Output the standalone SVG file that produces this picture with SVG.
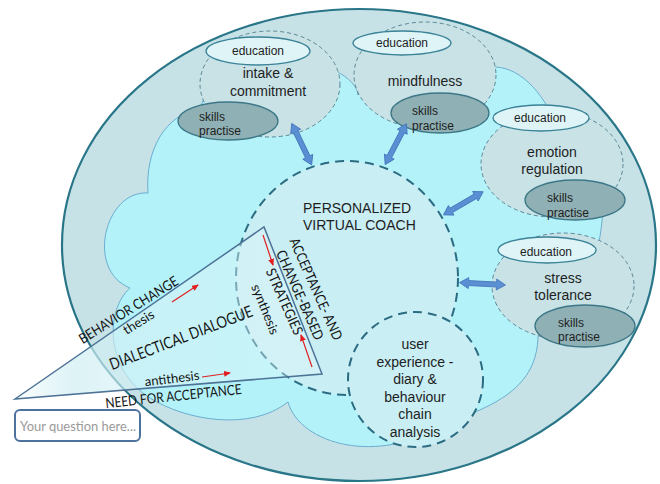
<svg xmlns="http://www.w3.org/2000/svg" width="660" height="484" viewBox="0 0 660 484">
<defs>
<style>
.big{fill:#c7e2e6;stroke:#2a7689;stroke-width:2.2}
.cloud{fill:#b4f2f9;stroke:#6aaed0;stroke-width:1}
.mod{fill:#c8e2e6;stroke:#5a8796;stroke-width:1;stroke-dasharray:4 3}
.edu{fill:#def4f7;stroke:#3a8297;stroke-width:1.3}
.skl{fill:#8fb0b4;stroke:#3c7787;stroke-width:1.3}
.core{fill:#c9eef4;stroke:#2b6c82;stroke-width:2;stroke-dasharray:9 6}
.t14{font-family:"Liberation Sans",Arial,sans-serif;font-size:14px;fill:#1e1e1e}
.t12{font-family:"Liberation Sans",Arial,sans-serif;font-size:12px;fill:#1e1e1e}
.cal{font-family:Lato,"Open Sans",sans-serif;fill:#151515}
.mid{text-anchor:middle}
.red{fill:none;stroke:#e02020;stroke-width:1.2;marker-end:url(#rh)}
.blue{fill:#5b8fd4;stroke:#4171b8;stroke-width:0.8}
</style>
<marker id="rh" viewBox="0 0 7 6" markerWidth="7" markerHeight="6" refX="6" refY="3" orient="auto" markerUnits="userSpaceOnUse">
<path d="M0,0 L7,3 L0,6 Z" fill="#e02020"/>
</marker>
<path id="dbl" d="M-23,0 L-14,-5.5 L-14,-2.5 L14,-2.5 L14,-5.5 L23,0 L14,5.5 L14,2.5 L-14,2.5 L-14,5.5 Z"/>
<linearGradient id="triGrad" gradientUnits="userSpaceOnUse" x1="15" y1="0" x2="322" y2="0">
<stop offset="0" stop-color="#ffffff" stop-opacity="1"/>
<stop offset="0.2" stop-color="#cfeef3" stop-opacity="0.7"/>
<stop offset="1" stop-color="#e6fafc" stop-opacity="0.3"/>
</linearGradient>
</defs>

<g id="background">
<ellipse class="big" cx="359" cy="245" rx="297" ry="236"/>
<path class="cloud" d="M148,193 C145,150 165,115 200,108 C230,30 355,60 358,95 C370,30 460,30 478,72 C500,58 530,75 548,108 C615,120 606,205 598,248 C630,270 600,335 538,330 C540,385 500,405 440,425 C380,465 300,445 288,402 C250,432 185,420 150,398 C105,370 105,310 130,288 C85,270 105,190 148,193 Z"/>
</g>

<g id="node-intake">
<ellipse class="mod" cx="270" cy="84" rx="70" ry="53"/>
<ellipse class="edu" cx="258" cy="51" rx="52" ry="14"/>
<text class="t12 mid" x="258" y="55">education</text>
<text class="t14 mid" x="268" y="78">intake &amp;</text>
<text class="t14 mid" x="268" y="96">commitment</text>
<ellipse class="skl" cx="228" cy="121" rx="50" ry="19"/>
<text class="t12" x="199" y="121">skills</text>
<text class="t12" x="199" y="135">practise</text>
</g>

<g id="node-mindfulness">
<ellipse class="mod" cx="425" cy="75" rx="71" ry="53"/>
<ellipse class="edu" cx="402" cy="43" rx="49" ry="12"/>
<text class="t12 mid" x="402" y="47">education</text>
<text class="t14 mid" x="425" y="86">mindfulness</text>
<ellipse class="skl" cx="440" cy="113" rx="49" ry="20"/>
<text class="t12" x="412" y="115">skills</text>
<text class="t12" x="412" y="130">practise</text>
</g>

<g id="node-emotion">
<ellipse class="mod" cx="552" cy="164" rx="71" ry="53"/>
<ellipse class="edu" cx="541" cy="118" rx="48" ry="13"/>
<text class="t12 mid" x="540" y="122">education</text>
<text class="t14 mid" x="552" y="157">emotion</text>
<text class="t14 mid" x="552" y="174">regulation</text>
<ellipse class="skl" cx="575" cy="200" rx="50" ry="20"/>
<text class="t12" x="547" y="202">skills</text>
<text class="t12" x="547" y="217">practise</text>
</g>

<g id="node-stress">
<ellipse class="mod" cx="563" cy="286" rx="71" ry="53"/>
<ellipse class="edu" cx="547" cy="250" rx="49" ry="13"/>
<text class="t12 mid" x="546" y="256">education</text>
<text class="t14 mid" x="563" y="283">stress</text>
<text class="t14 mid" x="563" y="300">tolerance</text>
<ellipse class="skl" cx="585" cy="326" rx="50" ry="21"/>
<text class="t12" x="558" y="327">skills</text>
<text class="t12" x="558" y="341">practise</text>
</g>

<g id="node-coach">
<ellipse class="core" cx="347" cy="278" rx="111" ry="117"/>
<text class="t14" x="303" y="213">PERSONALIZED</text>
<text class="t14" x="303" y="230">VIRTUAL COACH</text>
</g>

<g id="node-user">
<circle class="core" cx="415.5" cy="379.5" r="67.5"/>
<text class="t14 mid" x="415" y="349">user</text>
<text class="t14 mid" x="415" y="366.5">experience -</text>
<text class="t14 mid" x="415" y="384">diary &amp;</text>
<text class="t14 mid" x="415" y="401.5">behaviour</text>
<text class="t14 mid" x="415" y="419">chain</text>
<text class="t14 mid" x="415" y="436.5">analysis</text>
</g>

<g id="node-dialogue">
<polygon points="15,399 264,227 322,374" fill="url(#triGrad)" stroke="#4d7396" stroke-width="1.5"/>
<text class="cal mid" font-size="14" textLength="114" lengthAdjust="spacingAndGlyphs" transform="translate(131,314) rotate(-32)">BEHAVIOR CHANGE</text>
<text class="cal mid" font-size="13" textLength="34" lengthAdjust="spacingAndGlyphs" transform="translate(141,326) rotate(-32)">thesis</text>
<text class="cal mid" font-size="16" textLength="152" lengthAdjust="spacingAndGlyphs" transform="translate(183,343) rotate(-21)">DIALECTICAL DIALOGUE</text>
<text class="cal mid" font-size="13" textLength="55" lengthAdjust="spacingAndGlyphs" transform="translate(172.5,383) rotate(-7)">antithesis</text>
<text class="cal mid" font-size="14" textLength="137" lengthAdjust="spacingAndGlyphs" transform="translate(174,401) rotate(-6)">NEED FOR ACCEPTANCE</text>
<text class="cal mid" font-size="13" textLength="53" lengthAdjust="spacingAndGlyphs" transform="translate(261,311) rotate(68)">synthesis</text>
<text class="cal mid" font-size="14" textLength="71" lengthAdjust="spacingAndGlyphs" transform="translate(280,303.5) rotate(66)">STRATEGIES</text>
<text class="cal mid" font-size="14" textLength="97" lengthAdjust="spacingAndGlyphs" transform="translate(295.5,297) rotate(66)">CHANGE-BASED</text>
<text class="cal mid" font-size="14" textLength="110" lengthAdjust="spacingAndGlyphs" transform="translate(311.5,291) rotate(66)">ACCEPTANCE- AND</text>
</g>

<g id="connectors">
<use href="#dbl" class="blue" transform="translate(301.7,144.2) rotate(64.4)"/>
<use href="#dbl" class="blue" transform="translate(395.8,144.2) rotate(117.5)"/>
<use href="#dbl" class="blue" transform="translate(463.3,203.3) rotate(149.8)"/>
<use href="#dbl" class="blue" transform="translate(482.5,283.8) rotate(3)"/>
<line class="red" x1="172" y1="302" x2="198" y2="285"/>
<line class="red" x1="202" y1="377" x2="230" y2="373"/>
<line class="red" x1="263" y1="235" x2="273" y2="265"/>
<line class="red" x1="312" y1="367" x2="301" y2="335"/>
</g>

<g id="node-question">
<rect x="15" y="410" width="125" height="31" rx="5" fill="#ffffff" stroke="#4e72a0" stroke-width="2"/>
<text class="cal" font-size="14" x="20" y="431" style="fill:#9a9a9a" textLength="116" lengthAdjust="spacingAndGlyphs">Your question here...</text>
</g>
</svg>
